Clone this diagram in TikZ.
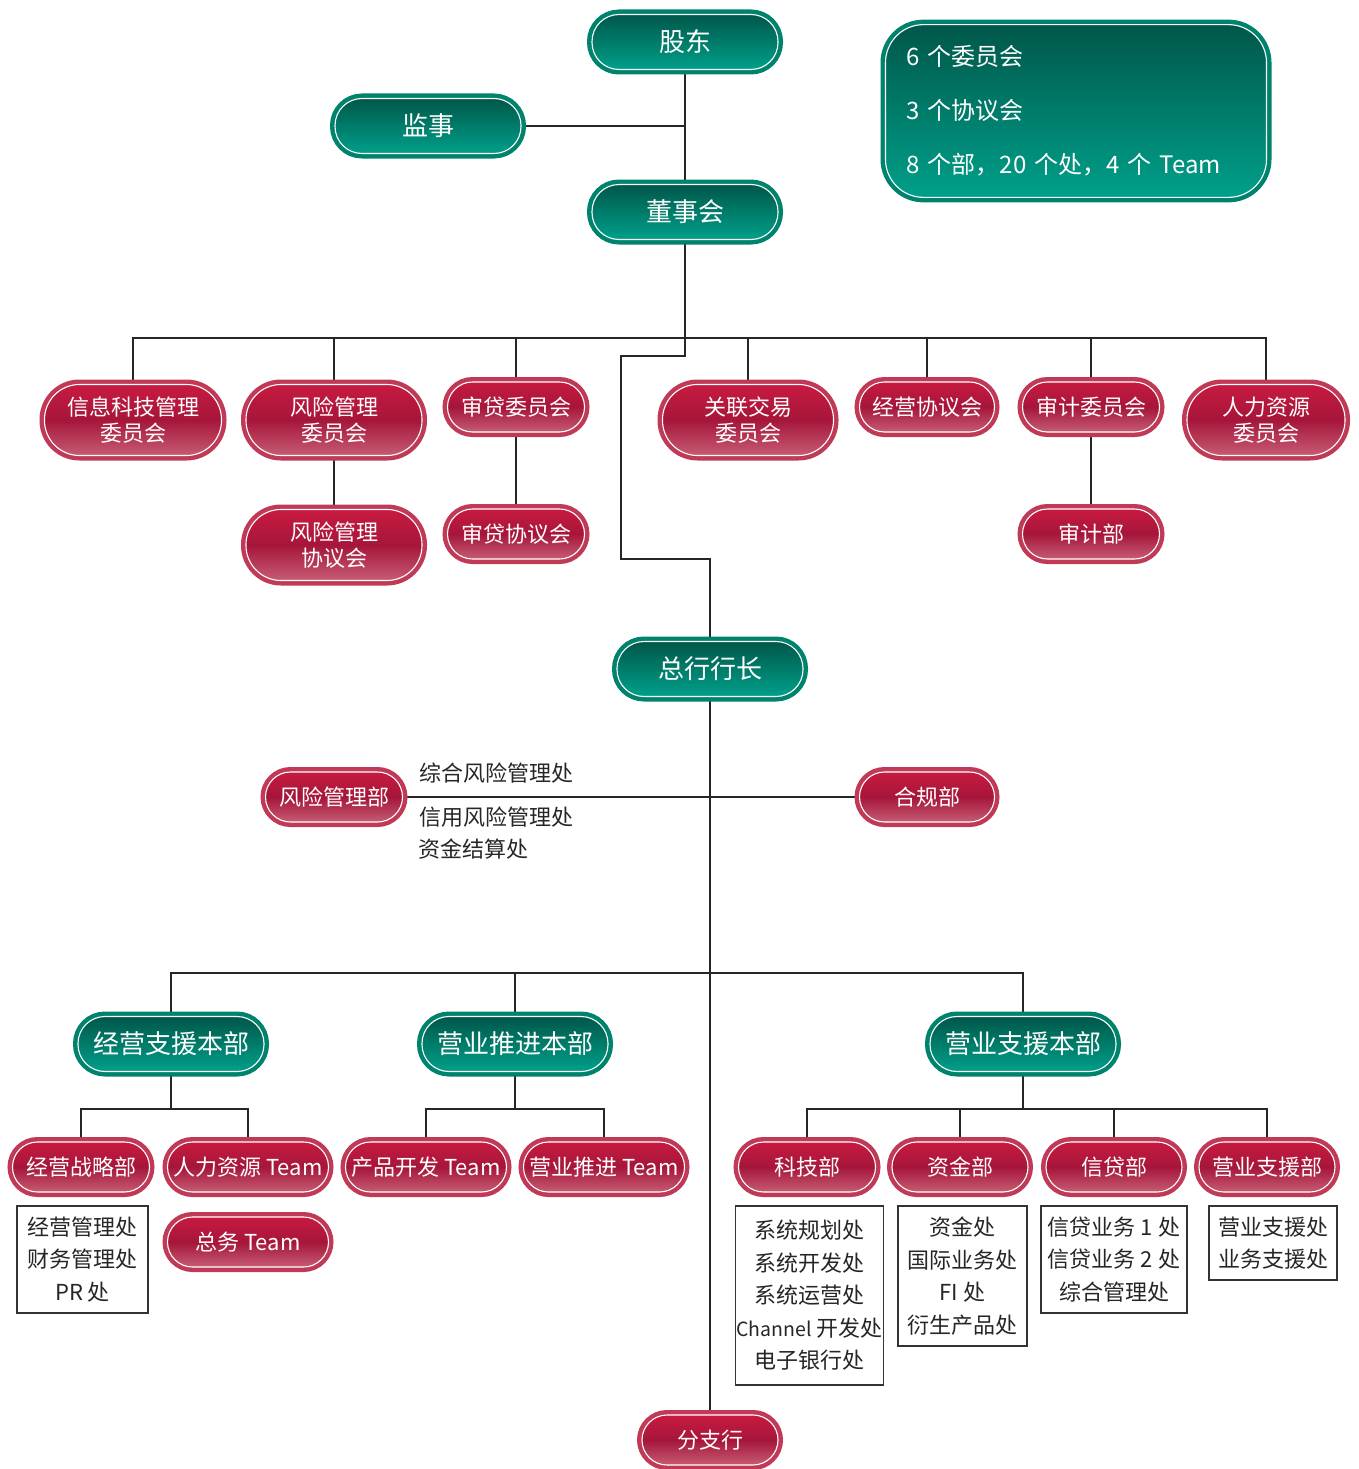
\documentclass[tikz,border=0pt]{standalone}
\usepackage{fontspec}
\setmainfont{Noto Sans CJK SC}
\usetikzlibrary{positioning}
\pgfdeclarelayer{background}
\pgfsetlayers{background,main}
\definecolor{redtop}{HTML}{C81A40}
\definecolor{redmid}{HTML}{A6163A}
\definecolor{redbot}{HTML}{C65C73}
\definecolor{redrim}{HTML}{C03A57}
\definecolor{greentop}{HTML}{00574A}
\definecolor{greenbot}{HTML}{00A08A}
\definecolor{greenrim}{HTML}{00836D}
\tikzset{%
  pill/.style={rectangle,draw=white,line width=1.1pt,text=white,inner sep=2pt,align=center},
  greenpill/.style={pill,rounded corners=27pt,minimum width=186pt,minimum height=55pt,
    top color=greentop,bottom color=greenbot,preaction={draw=greenrim,line width=10pt},
    font=\fontsize{26}{30}\selectfont},
  redpill/.style={pill,rounded corners=25pt,minimum width=137pt,minimum height=50pt,
    top color=redtop,bottom color=redbot,middle color=redmid,preaction={draw=redrim,line width=10pt},
    font=\fontsize{22}{26}\selectfont},
  tallpill/.style={redpill,rounded corners=35pt,minimum height=71pt},
  teampill/.style={redpill,minimum width=161pt},
  notebox/.style={rectangle,rounded corners=38pt,minimum height=164pt,text width=339pt,inner sep=21pt,
    top color=greentop,bottom color=greenbot,draw=white,line width=1.1pt,
    preaction={draw=greenrim,line width=10pt},text=white,align=left,font=\fontsize{24}{54}\selectfont},
  listbox/.style={rectangle,draw=black!80,line width=1.2pt,fill=white,inner sep=1pt,align=center,
    text=black!85,font=\fontsize{22}{32.5}\selectfont},
  sidenote/.style={text=black!85,font=\fontsize{22}{26}\selectfont,anchor=west,inner sep=0pt},
  conn/.style={draw=black!85,line width=2pt}
}
\begin{document}
\begin{tikzpicture}[x=1pt,y=-1pt]
  \useasboundingbox (0,0) rectangle (1359,1469);

  % top of the tree
  \node (shareholders) [greenpill] at (685,42) {股东};
  \node (supervisor) [greenpill] at (428,126) {监事};
  \node (board) [greenpill] at (685,212) {董事会};
  \node (summary) [notebox] at (1076,111) {6 个委员会\\3 个协议会\\8 个部，20 个处，4 个 Team};

  % committees under the board
  \node (itcomm) [tallpill,minimum width=177pt] at (133,420) {信息科技管理\\委员会};
  \node (riskcomm) [tallpill,minimum width=176pt] at (334,420) {风险管理\\委员会};
  \node (credcomm) [redpill] at (516,407) {审贷委员会};
  \node (relcomm) [tallpill,minimum width=171pt] at (748,420) {关联交易\\委员会};
  \node (bizcouncil) [redpill,minimum width=135pt] at (927,407) {经营协议会};
  \node (auditcomm) [redpill] at (1091,407) {审计委员会};
  \node (hrcomm) [tallpill,minimum width=158pt] at (1266,420) {人力资源\\委员会};
  \node (riskcouncil) [tallpill,minimum width=176pt] at (334,545) {风险管理\\协议会};
  \node (credcouncil) [redpill] at (516,534) {审贷协议会};
  \node (auditdept) [redpill] at (1091,534) {审计部};

  % head office
  \node (president) [greenpill] at (710,669) {总行行长};
  \node (riskdept) [redpill] at (334,797) {风险管理部};
  \node (compliance) [redpill,minimum width=135pt] at (927,797) {合规部};
  \node (riskline1) [sidenote] at (419,773) {综合风险管理处};
  \node (riskline2) [sidenote] at (419,817) {信用风险管理处};
  \node (riskline3) [sidenote] at (418,849) {资金结算处};

  \node (opsupport) [greenpill] at (171,1044) {经营支援本部};
  \node (salespromo) [greenpill] at (515,1044) {营业推进本部};
  \node (salessupport) [greenpill] at (1023,1044) {营业支援本部};

  \node (strategy) [redpill] at (81,1167) {经营战略部};
  \node (hrteam) [teampill] at (248,1167) {人力资源 Team};
  \node (generalteam) [teampill] at (248,1242) {总务 Team};
  \node (productteam) [teampill] at (426,1167) {产品开发 Team};
  \node (promoteam) [teampill] at (604,1167) {营业推进 Team};
  \node (techdept) [redpill] at (807,1167) {科技部};
  \node (funddept) [redpill,minimum width=136pt] at (960,1167) {资金部};
  \node (creditdept) [redpill,minimum width=136pt] at (1114,1167) {信贷部};
  \node (salesdept) [redpill,minimum width=136pt] at (1267,1167) {营业支援部};

  \node (strategylist) [listbox,minimum width=131pt,minimum height=107pt] at (82.5,1259.5)
    {经营管理处\\财务管理处\\PR 处};
  \node (techlist) [listbox,minimum width=147pt,minimum height=179pt] at (809.5,1295.5)
    {系统规划处\\系统开发处\\系统运营处\\{\fontsize{19.5}{32.5}\selectfont Channel} 开发处\\电子银行处};
  \node (fundlist) [listbox,minimum width=129pt,minimum height=140pt] at (962.5,1276)
    {资金处\\国际业务处\\FI 处\\衍生产品处};
  \node (creditlist) [listbox,minimum width=146pt,minimum height=107pt] at (1114,1259.5)
    {信贷业务 1 处\\信贷业务 2 处\\综合管理处};
  \node (saleslist) [listbox,minimum width=128pt,minimum height=74pt] at (1273,1243)
    {营业支援处\\业务支援处};

  \node (branch) [redpill,minimum width=136pt] at (710,1440) {分支行};

  \coordinate (bus1) at (685,338);
  \coordinate (jog1) at (621,356);
  \coordinate (jog2) at (621,559);
  \coordinate (bus2) at (710,973);
  \coordinate (opsbus) at (171,1109);
  \coordinate (promobus) at (515,1109);
  \coordinate (supbus) at (1023,1109);

  \begin{pgfonlayer}{background}
    \draw[conn] (shareholders) -- (board);
    \draw[conn] (supervisor.east) -- (supervisor.east -| board);
    \draw[conn] (board.south) |- (jog1) -- (jog2) -| (president.north);
    \draw[conn] (itcomm.north) |- (bus1) -| (hrcomm.north);
    \foreach \n in {riskcomm,credcomm,relcomm,bizcouncil,auditcomm}
      \draw[conn] (\n.north) -- (\n.north |- bus1);
    \draw[conn] (riskcomm) -- (riskcouncil);
    \draw[conn] (credcomm) -- (credcouncil);
    \draw[conn] (auditcomm) -- (auditdept);

    \draw[conn] (president) -- (branch);
    \draw[conn] (riskdept) -- (compliance);
    \draw[conn] (opsupport.north) |- (bus2) -| (salessupport.north);
    \draw[conn] (salespromo.north) -- (salespromo.north |- bus2);

    \draw[conn] (opsupport) -- (opsbus);
    \draw[conn] (strategy.north) |- (opsbus) -| (hrteam.north);
    \draw[conn] (salespromo) -- (promobus);
    \draw[conn] (productteam.north) |- (promobus) -| (promoteam.north);
    \draw[conn] (salessupport) -- (supbus);
    \draw[conn] (techdept.north) |- (supbus) -| (salesdept.north);
    \foreach \n in {funddept,creditdept}
      \draw[conn] (\n.north) -- (\n.north |- supbus);
  \end{pgfonlayer}
\end{tikzpicture}
\end{document}
